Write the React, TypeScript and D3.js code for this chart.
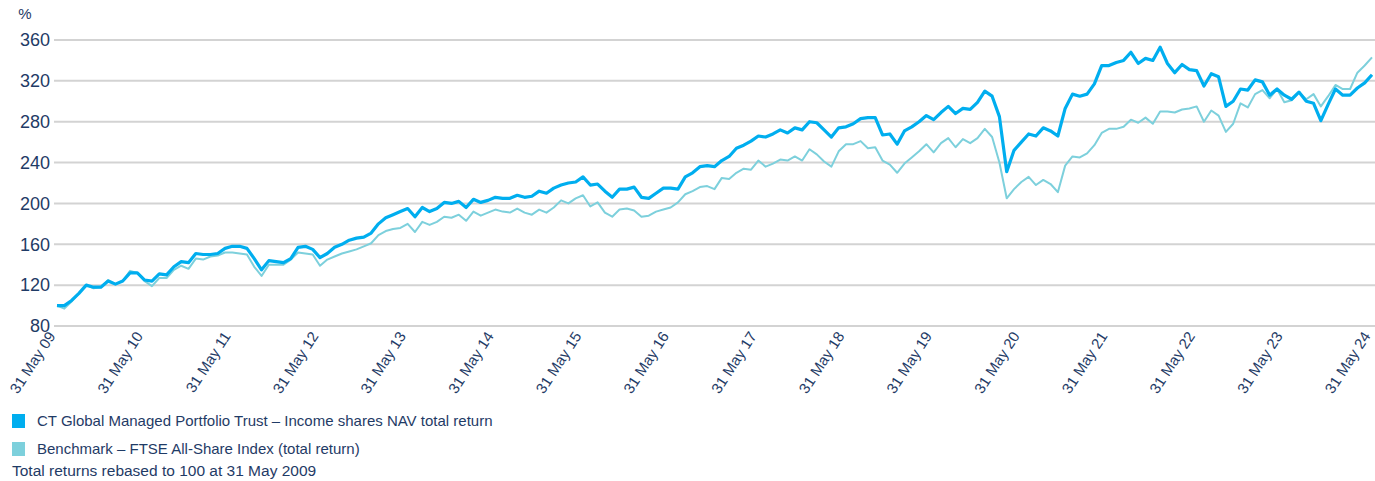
import React from "react";
import * as d3 from "d3";

// monthly values, 31 May 2009 .. 31 May 2024, rebased to 100
const navSeries = [
  100, 100, 105, 112, 120, 118, 118, 124, 121, 124, 132, 132, 125, 124, 131, 130, 138, 143, 142, 151, 150, 150, 151, 156, 158, 158, 156,
  146, 135, 144, 143, 142, 146, 157, 158, 155, 147, 151, 157, 160, 164, 166, 167, 171, 180, 186, 189, 192, 195, 187, 196, 192, 195,
  201, 200, 202, 196, 204, 201, 203, 206, 205, 205, 208, 206, 207, 212, 210, 215, 218, 220, 221, 226, 218, 219, 212, 206, 214, 214,
  216, 206, 205, 210, 215, 215, 214, 226, 230, 236, 237, 236, 242, 246, 254, 257, 261, 266, 265, 268, 272, 269, 274, 272, 280, 279,
  272, 265, 274, 275, 278, 283, 284, 284, 267, 268, 258, 271, 275, 280, 286, 282, 289, 295, 288, 293, 292, 299, 310, 305, 285, 231,
  252, 260, 268, 266, 274, 271, 266, 293, 307, 305, 307, 317, 335, 335, 338, 340, 348, 337, 342, 340, 353, 337, 328, 336, 331, 330,
  315, 327, 324, 295, 300, 312, 311, 321, 319, 306, 312, 306, 302, 309, 300, 298, 281, 297, 312, 306, 306, 313, 318, 326,
];

const benchSeries = [
  100, 97, 104, 112, 120, 117, 118, 125, 121, 124, 134, 132, 124, 119, 127, 127, 135, 139, 136, 146, 145, 148, 149, 152, 152, 151, 150,
  138, 129, 140, 140, 140, 145, 152, 151, 150, 139, 145, 148, 151, 153, 155, 158, 161, 169, 173, 175, 176, 180, 172, 182, 179, 182,
  187, 186, 189, 183, 192, 188, 191, 194, 192, 191, 195, 191, 189, 194, 191, 196, 203, 200, 205, 208, 197, 201, 191, 187, 194, 195,
  193, 187, 188, 192, 194, 196, 201, 209, 212, 216, 217, 214, 225, 224, 230, 234, 233, 242, 236, 239, 243, 242, 246, 242, 253, 248,
  241, 236, 251, 258, 258, 261, 254, 255, 242, 238, 230, 239, 245, 251, 258, 250, 259, 264, 255, 263, 259, 264, 273, 265, 240, 205,
  214, 221, 226, 218, 223, 219, 211, 237, 246, 245, 249, 257, 269, 273, 273, 275, 282, 279, 284, 278, 290, 290, 289, 292, 293, 295,
  280, 291, 286, 270, 278, 298, 294, 307, 311, 303, 312, 299, 301, 309, 302, 307, 295, 305, 316, 312, 312, 328, 335, 343,
];

const yearLabels = [
  "31 May 09", "31 May 10", "31 May 11", "31 May 12", "31 May 13", "31 May 14", "31 May 15", "31 May 16",
  "31 May 17", "31 May 18", "31 May 19", "31 May 20", "31 May 21", "31 May 22", "31 May 23", "31 May 24",
];

const yTicks = [80, 120, 160, 200, 240, 280, 320, 360];

const legendItems = [
  { label: "CT Global Managed Portfolio Trust – Income shares NAV total return", color: "#00aeef" },
  { label: "Benchmark – FTSE All-Share Index (total return)", color: "#7dd0dc" },
];

const W = 1375;
const H = 481;
const font = "'Liberation Sans', Arial, sans-serif";
const textColor = "#1f3b66";

export default function App() {
  const x = d3.scaleLinear().domain([0, navSeries.length - 1]).range([57, 1372]);
  const y = d3.scaleLinear().domain([80, 360]).range([326, 40]);

  const line = d3
    .line<number>()
    .x((d, i) => x(i))
    .y((d) => y(d));

  return (
    <div style={{ position: "absolute", left: 0, top: 0 }}>
      <svg width={W} height={H} style={{ display: "block", fontFamily: font }}>
        {/* grid */}
        {yTicks.map((t) => (
          <g key={t}>
            <line x1={54} x2={W} y1={y(t)} y2={y(t)} stroke="#d3d3d3" strokeWidth={2} />
            <text x={50} y={y(t)} dy="0.35em" textAnchor="end" fontSize={18} fill={textColor}>
              {t}
            </text>
          </g>
        ))}
        <text x={25} y={19} textAnchor="middle" fontSize={15} fill={textColor}>
          %
        </text>

        {/* x labels */}
        {yearLabels.map((lab, i) => (
          <text
            key={lab}
            transform={`translate(${x(i * 12) - 1},${336}) rotate(-57)`}
            textAnchor="end"
            fontSize={15}
            fill={textColor}
          >
            {lab}
          </text>
        ))}

        <path d={line(benchSeries) ?? ""} fill="none" stroke="#7dd0dc" strokeWidth={2} strokeLinejoin="round" />
        <path d={line(navSeries) ?? ""} fill="none" stroke="#00aeef" strokeWidth={3.2} strokeLinejoin="round" />

        {/* legend */}
        {legendItems.map((it, i) => (
          <g key={it.label} transform={`translate(12,${414 + i * 28})`}>
            <rect width={13} height={14} fill={it.color} />
            <text x={25} y={7} dy="0.36em" fontSize={15} fill={textColor}>
              {it.label}
            </text>
          </g>
        ))}
        <text x={12} y={470} dy="0.36em" fontSize={15.5} fill={textColor}>
          Total returns rebased to 100 at 31 May 2009
        </text>
      </svg>
    </div>
  );
}
